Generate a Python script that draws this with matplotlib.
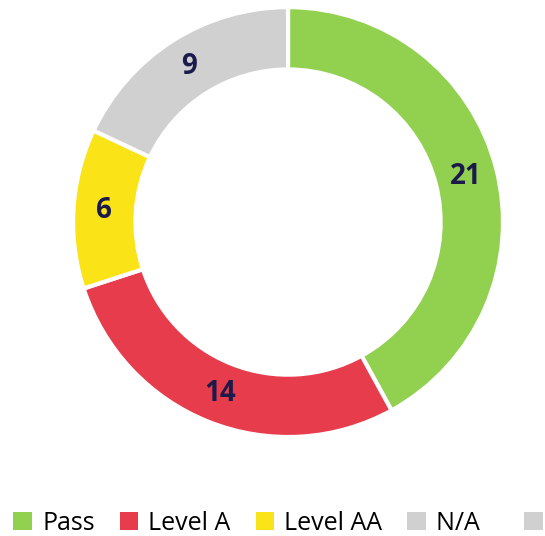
import numpy as np
import matplotlib.pyplot as plt
from matplotlib.patches import Patch

labels = ['Pass', 'Level A', 'Level AA', 'N/A   ', '']
values = [21, 14, 6, 9]
colors = ['#92d050', '#e63c4c', '#fae316', '#d0d0d0', '#d0d0d0']

plt.rcParams['font.family'] = ['Open Sans', 'DejaVu Sans']

fig = plt.figure(figsize=(5.45, 5.36), dpi=100)
ax = fig.add_axes([0.134, 0.1847, 0.789, 0.802])

wedges, texts = ax.pie(values, colors=colors[:4], startangle=90, counterclock=False,
                       radius=1.0, wedgeprops=dict(width=0.29, edgecolor='white', linewidth=3))
for w, v in zip(wedges, values):
    ang = np.deg2rad((w.theta1 + w.theta2) / 2)
    r = 0.856
    ax.text(r * np.cos(ang), r * np.sin(ang), str(v), ha='center', va='center',
            fontsize=20, fontweight='bold', color='#1b1a4a')
ax.set_xlim(-1, 1)
ax.set_ylim(-1, 1)
ax.set_aspect('equal')
ax.axis('off')

handles = [Patch(facecolor=c, edgecolor='none') for c in colors]
fig.legend(handles, labels, loc='center left', bbox_to_anchor=(0.006, 0.024), ncol=5,
           frameon=False, fontsize=18, handlelength=0.75, handleheight=0.75,
           handletextpad=0.4, columnspacing=1.0, borderaxespad=0)

fig.savefig('out.png', dpi=100)
